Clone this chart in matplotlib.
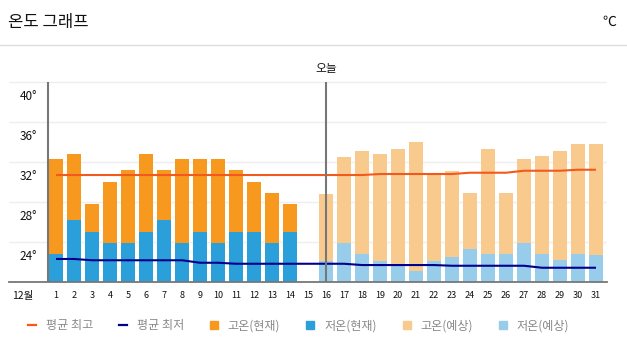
import numpy as np
import matplotlib
matplotlib.use('Agg')
import matplotlib.pyplot as plt
from matplotlib.lines import Line2D
import matplotlib.transforms as mtransforms

plt.rcParams['font.family'] = ['Noto Sans CJK KR', 'DejaVu Sans']

# ---------------- data ----------------
days = list(range(1, 32))
day_labels = [str(d) for d in days]
month_label = '12월'
today = 16

days_current = list(range(1, 15))
high_current = [32.3, 32.8, 27.8, 30.0, 31.2, 32.8, 31.2, 32.3, 32.3, 32.3, 31.2, 30.0, 28.9, 27.8]
low_current = [22.8, 26.2, 25.0, 23.9, 23.9, 25.0, 26.2, 23.9, 25.0, 23.9, 25.0, 25.0, 23.9, 25.0]

days_forecast = list(range(16, 32))
high_forecast = [28.8, 32.5, 33.1, 32.8, 33.3, 34.0, 30.8, 31.1, 28.9, 33.3, 28.9, 32.3, 32.6, 33.1, 33.8, 33.8]
low_forecast = [22.1, 23.9, 22.8, 22.1, 21.7, 21.1, 22.1, 22.5, 23.3, 22.8, 22.8, 23.9, 22.8, 22.2, 22.8, 22.7]

avg_high = [30.7] * 18 + [30.8] * 5 + [30.93] * 3 + [31.13] * 3 + [31.23] * 2
avg_low = [22.28] * 2 + [22.15] * 6 + [21.9] * 2 + [21.8] * 7 + [21.67] * 5 + [21.6] * 5 + [21.4] * 4

y_ticks = [24, 28, 32, 36, 40]
y_tick_labels = ['24°', '28°', '32°', '36°', '40°']
legend_labels = ['평균 최고', '평균 최저', '고온(현재)', '저온(현재)', '고온(예상)', '저온(예상)']
title = '온도 그래프'
unit = '℃'
today_label = '오늘'

# ---------------- style ----------------
C_HIGH_NOW = '#F7981F'
C_LOW_NOW = '#2B9FD9'
C_HIGH_FC = '#F8CA8E'
C_LOW_FC = '#97CDEB'
C_AVG_HIGH = '#F25A1D'
C_AVG_LOW = '#00008B'
C_VLINE = '#777777'
C_GRID = '#EEEEEE'
YMIN, YMAX = 20, 40.5

W, H = 627, 345
fig = plt.figure(figsize=(W / 100, H / 100), dpi=100)
ax = fig.add_axes([9 / W, (H - 281.7) / H, 598 / W, 20.5 * 9.97 / H])
ax.set_xlim(-1.611, 31.611)
ax.set_ylim(YMIN, YMAX)

bw = 0.78
ax.bar(days_current, np.array(high_current) - YMIN, bottom=YMIN, width=bw, color=C_HIGH_NOW, zorder=2)
ax.bar(days_current, np.array(low_current) - YMIN, bottom=YMIN, width=bw, color=C_LOW_NOW, zorder=2.1)
ax.bar(days_forecast, np.array(high_forecast) - YMIN, bottom=YMIN, width=bw, color=C_HIGH_FC, zorder=2)
ax.bar(days_forecast, np.array(low_forecast) - YMIN, bottom=YMIN, width=bw, color=C_LOW_FC, zorder=2.1)

ax.plot(days, avg_high, color=C_AVG_HIGH, lw=1.5, zorder=3, solid_capstyle='butt')
ax.plot(days, avg_low, color=C_AVG_LOW, lw=1.5, zorder=3, solid_capstyle='butt')

ax.vlines([0.57, today], YMIN, 40, color=C_VLINE, lw=1.5, zorder=4)

# grid
ax.set_yticks(y_ticks)
ax.set_yticklabels([])
ax.grid(axis='y', color=C_GRID, lw=1.0, zorder=0)
ax.set_axisbelow(True)
ax.tick_params(axis='y', length=0)

# y labels inside, below gridline
ytrans = mtransforms.blended_transform_factory(ax.transAxes, ax.transData)
ytrans = mtransforms.offset_copy(ytrans, fig=fig, y=-14.5, units='dots')
for v, lab in zip(y_ticks, y_tick_labels):
    ax.text(0.0468, v, lab, transform=ytrans, ha='right', va='center', fontsize=8.5, color='#111111')

# x ticks
ax.set_xticks([-0.833] + days)
ax.set_xticklabels([month_label] + day_labels)
ax.tick_params(axis='x', length=0, pad=6.5, labelsize=6.5, colors='#111111')
ax.get_xticklabels()[0].set_fontsize(7.5)

for s in ['top', 'right', 'left']:
    ax.spines[s].set_visible(False)
ax.spines['bottom'].set_color('#777777')
ax.spines['bottom'].set_linewidth(1.3)
ax.spines['bottom'].set_zorder(5)

# today label
ax.annotate(today_label, xy=(today, 40), xytext=(0, 13.3 * 0.72), textcoords='offset points',
            ha='center', va='center', fontsize=8.5, color='#111111')

# header
fig.text(8.3 / W, 1 - 22 / H, title, ha='left', va='center', fontsize=12, color='#111111')
fig.text(616 / W, 1 - 22 / H, unit, ha='right', va='center', fontsize=10, color='#111111')
fig.add_artist(Line2D([0, 1], [1 - 45 / H, 1 - 45 / H], transform=fig.transFigure, color='#DDDDDD', lw=1.0))

# legend
handles = [
    Line2D([], [], color=C_AVG_HIGH, lw=1.6),
    Line2D([], [], color=C_AVG_LOW, lw=1.6),
    Line2D([], [], marker='s', ls='none', markersize=5.2, color=C_HIGH_NOW),
    Line2D([], [], marker='s', ls='none', markersize=5.2, color=C_LOW_NOW),
    Line2D([], [], marker='s', ls='none', markersize=5.2, color=C_HIGH_FC),
    Line2D([], [], marker='s', ls='none', markersize=5.2, color=C_LOW_FC),
]
fig.legend(handles, legend_labels, loc='center left', bbox_to_anchor=(28.3 / W, 1 - 325.7 / H),
           ncol=6, frameon=False, fontsize=8.7, handlelength=0.65, handletextpad=0.8,
           columnspacing=2.17, borderpad=0, borderaxespad=0, labelcolor='#888888')

fig.savefig('out.png', dpi=100)
